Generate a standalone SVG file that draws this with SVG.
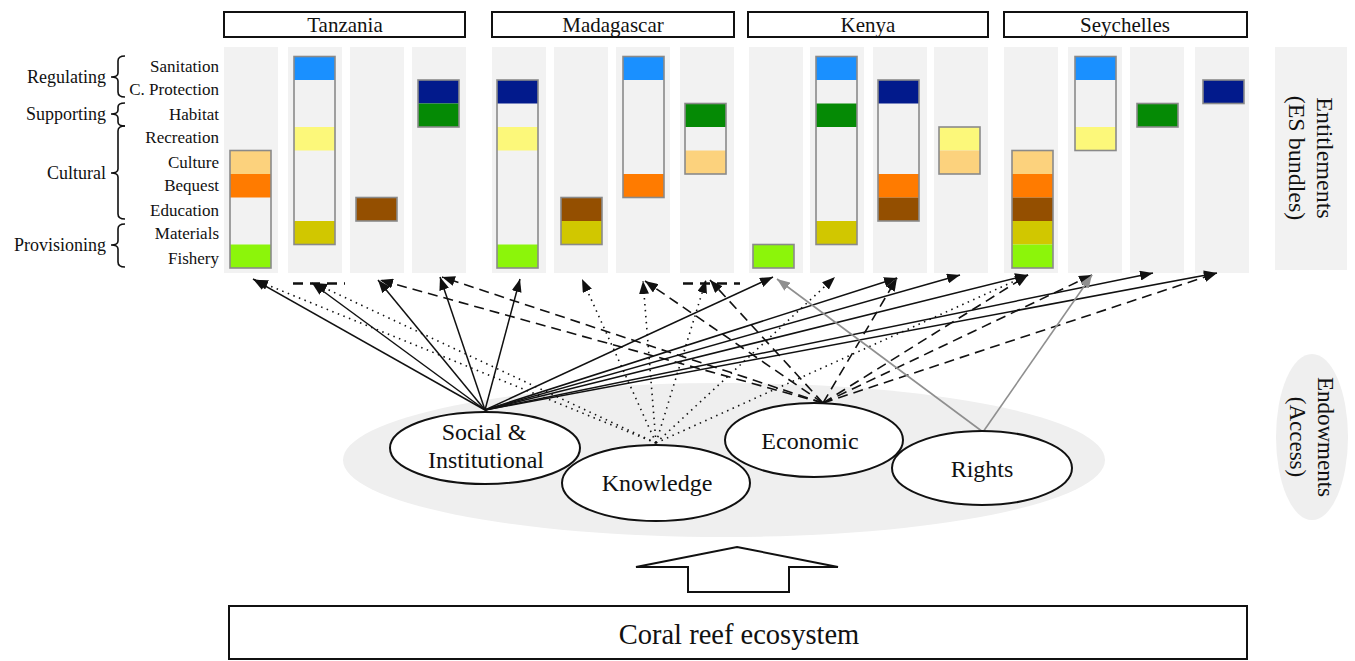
<svg xmlns="http://www.w3.org/2000/svg" width="1355" height="661" viewBox="0 0 1355 661" font-family="'Liberation Serif', 'DejaVu Serif', serif">
<style>
text{font-family:"Liberation Serif","DejaVu Serif",serif;fill:#111}
.svc{font-size:17px;text-anchor:end}
.cat{font-size:18px;text-anchor:end}
.hdr{font-size:21px;text-anchor:middle}
.nt{font-size:24px;text-anchor:middle}
.side{font-size:24px;text-anchor:middle}
.colbg{fill:#f2f2f2}
.box{fill:none;stroke:#8a8a8a;stroke-width:1.6}
.hbox{fill:#fff;stroke:#111;stroke-width:2}
.node{fill:#fff;stroke:#111;stroke-width:2}
.brace{fill:none;stroke:#111;stroke-width:1.6}
.san{fill:#1a90ff}.cp{fill:#021a8c}.hab{fill:#058a05}.rec{fill:#fcf87a}.cul{fill:#fcd27d}.beq{fill:#ff7b00}.edu{fill:#944f00}.mat{fill:#d1c700}.fis{fill:#8cf50a}.emp{fill:#f2f2f2}
.sol{fill:none;stroke:#111;stroke-width:1.5;marker-end:url(#ah)}
.dot{fill:none;stroke:#111;stroke-width:1.6;stroke-dasharray:1.5 4.5;marker-end:url(#ah)}
.dsh{fill:none;stroke:#111;stroke-width:1.6;stroke-dasharray:10 6;marker-end:url(#ah)}
.gry{fill:none;stroke:#8f8f8f;stroke-width:1.6;marker-end:url(#ahg)}
.hd{fill:none;stroke:#111;stroke-width:2.4;stroke-dasharray:10 7}
</style>
<defs>
<marker id="ah" markerUnits="userSpaceOnUse" markerWidth="13" markerHeight="10" refX="13" refY="5" orient="auto"><path d="M0,0 L13,5 L0,10 z" fill="#111"/></marker>
<marker id="ahg" markerUnits="userSpaceOnUse" markerWidth="13" markerHeight="10" refX="13" refY="5" orient="auto"><path d="M0,0 L13,5 L0,10 z" fill="#8f8f8f"/></marker>
</defs>
<rect width="1355" height="661" fill="#fff"/>

<!-- backgrounds -->
<g id="backgrounds">
<ellipse cx="724" cy="460" rx="381" ry="77" fill="#efefef"/>
<rect class="colbg" x="224" y="47" width="54" height="226"/>
<rect class="colbg" x="288" y="47" width="54" height="226"/>
<rect class="colbg" x="350" y="47" width="54" height="226"/>
<rect class="colbg" x="412" y="47" width="54" height="226"/>
<rect class="colbg" x="492" y="47" width="54" height="226"/>
<rect class="colbg" x="554" y="47" width="54" height="226"/>
<rect class="colbg" x="616" y="47" width="54" height="226"/>
<rect class="colbg" x="680" y="47" width="54" height="226"/>
<rect class="colbg" x="749" y="47" width="54" height="226"/>
<rect class="colbg" x="810" y="47" width="54" height="226"/>
<rect class="colbg" x="873" y="47" width="54" height="226"/>
<rect class="colbg" x="934" y="47" width="54" height="226"/>
<rect class="colbg" x="1004" y="47" width="54" height="226"/>
<rect class="colbg" x="1068" y="47" width="54" height="226"/>
<rect class="colbg" x="1130" y="47" width="54" height="226"/>
<rect class="colbg" x="1195" y="47" width="54" height="226"/>
</g>

<!-- headers -->
<g id="hdr-tanzania"><rect class="hbox" x="224" y="12" width="241" height="25"/><text class="hdr" x="345" y="32">Tanzania</text></g>
<g id="hdr-madagascar"><rect class="hbox" x="492" y="12" width="242" height="25"/><text class="hdr" x="613" y="32">Madagascar</text></g>
<g id="hdr-kenya"><rect class="hbox" x="748" y="12" width="240" height="25"/><text class="hdr" x="868" y="32">Kenya</text></g>
<g id="hdr-seychelles"><rect class="hbox" x="1004" y="12" width="243" height="25"/><text class="hdr" x="1125" y="32">Seychelles</text></g>

<!-- row labels -->
<g id="labels">
<text class="svc" x="219" y="72">Sanitation</text>
<text class="svc" x="219" y="95">C. Protection</text>
<text class="svc" x="219" y="120">Habitat</text>
<text class="svc" x="219" y="143">Recreation</text>
<text class="svc" x="219" y="168">Culture</text>
<text class="svc" x="219" y="191">Bequest</text>
<text class="svc" x="219" y="216">Education</text>
<text class="svc" x="219" y="239">Materials</text>
<text class="svc" x="219" y="264">Fishery</text>
<text class="cat" x="106" y="83">Regulating</text>
<text class="cat" x="106" y="120">Supporting</text>
<text class="cat" x="106" y="179">Cultural</text>
<text class="cat" x="106" y="251">Provisioning</text>
<path class="brace" d="M125,56 Q118,56 118,61 L118,73 Q118,77 111,77 Q118,77 118,81 L118,92 Q118,97 125,97"/>
<path class="brace" d="M125,103 Q118,103 118,107 L118,110 Q118,114 111,114 Q118,114 118,118 L118,122 Q118,126 125,126"/>
<path class="brace" d="M125,126 Q118,126 118,131 L118,169 Q118,173 111,173 Q118,173 118,177 L118,214 Q118,219 125,219"/>
<path class="brace" d="M125,224 Q118,224 118,229 L118,241 Q118,245 111,245 Q118,245 118,249 L118,262 Q118,267 125,267"/>
</g>

<!-- bundles -->
<g id="tz1"><rect class="emp" x="230" y="150.5" width="41" height="117.5"/><rect class="cul" x="230" y="150.5" width="41" height="23.5"/><rect class="beq" x="230" y="174" width="41" height="23.5"/><rect class="fis" x="230" y="244.5" width="41" height="23.5"/><rect class="box" x="230" y="150.5" width="41" height="117.5"/></g>
<g id="tz2"><rect class="emp" x="294" y="56.5" width="41" height="188"/><rect class="san" x="294" y="56.5" width="41" height="23.5"/><rect class="rec" x="294" y="127" width="41" height="23.5"/><rect class="mat" x="294" y="221" width="41" height="23.5"/><rect class="box" x="294" y="56.5" width="41" height="188"/></g>
<g id="tz3"><rect class="edu" x="356" y="197.5" width="41" height="23.5"/><rect class="box" x="356" y="197.5" width="41" height="23.5"/></g>
<g id="tz4"><rect class="cp" x="418" y="80" width="41" height="23.5"/><rect class="hab" x="418" y="103.5" width="41" height="23.5"/><rect class="box" x="418" y="80" width="41" height="47"/></g>

<g id="mg1"><rect class="emp" x="497" y="80" width="41" height="188"/><rect class="cp" x="497" y="80" width="41" height="23.5"/><rect class="rec" x="497" y="127" width="41" height="23.5"/><rect class="fis" x="497" y="244.5" width="41" height="23.5"/><rect class="box" x="497" y="80" width="41" height="188"/></g>
<g id="mg2"><rect class="edu" x="561" y="197.5" width="41" height="23.5"/><rect class="mat" x="561" y="221" width="41" height="23.5"/><rect class="box" x="561" y="197.5" width="41" height="47"/></g>
<g id="mg3"><rect class="emp" x="623" y="56.5" width="41" height="141"/><rect class="san" x="623" y="56.5" width="41" height="23.5"/><rect class="beq" x="623" y="174" width="41" height="23.5"/><rect class="box" x="623" y="56.5" width="41" height="141"/></g>
<g id="mg4"><rect class="emp" x="685" y="103.5" width="41" height="70.5"/><rect class="hab" x="685" y="103.5" width="41" height="23.5"/><rect class="cul" x="685" y="150.5" width="41" height="23.5"/><rect class="box" x="685" y="103.5" width="41" height="70.5"/></g>

<g id="ke1"><rect class="fis" x="753" y="244.5" width="41" height="23.5"/><rect class="box" x="753" y="244.5" width="41" height="23.5"/></g>
<g id="ke2"><rect class="emp" x="816" y="56.5" width="41" height="188"/><rect class="san" x="816" y="56.5" width="41" height="23.5"/><rect class="hab" x="816" y="103.5" width="41" height="23.5"/><rect class="mat" x="816" y="221" width="41" height="23.5"/><rect class="box" x="816" y="56.5" width="41" height="188"/></g>
<g id="ke3"><rect class="emp" x="878" y="80" width="41" height="141"/><rect class="cp" x="878" y="80" width="41" height="23.5"/><rect class="beq" x="878" y="174" width="41" height="23.5"/><rect class="edu" x="878" y="197.5" width="41" height="23.5"/><rect class="box" x="878" y="80" width="41" height="141"/></g>
<g id="ke4"><rect class="rec" x="939" y="127" width="41" height="23.5"/><rect class="cul" x="939" y="150.5" width="41" height="23.5"/><rect class="box" x="939" y="127" width="41" height="47"/></g>

<g id="sy1"><rect class="cul" x="1012" y="150.5" width="41" height="23.5"/><rect class="beq" x="1012" y="174" width="41" height="23.5"/><rect class="edu" x="1012" y="197.5" width="41" height="23.5"/><rect class="mat" x="1012" y="221" width="41" height="23.5"/><rect class="fis" x="1012" y="244.5" width="41" height="23.5"/><rect class="box" x="1012" y="150.5" width="41" height="117.5"/></g>
<g id="sy2"><rect class="emp" x="1075" y="56.5" width="41" height="94"/><rect class="san" x="1075" y="56.5" width="41" height="23.5"/><rect class="rec" x="1075" y="127" width="41" height="23.5"/><rect class="box" x="1075" y="56.5" width="41" height="94"/></g>
<g id="sy3"><rect class="hab" x="1137" y="103.5" width="41" height="23.5"/><rect class="box" x="1137" y="103.5" width="41" height="23.5"/></g>
<g id="sy4"><rect class="cp" x="1203" y="80" width="41" height="23.5"/><rect class="box" x="1203" y="80" width="41" height="23.5"/></g>

<!-- side labels -->
<g id="entitlements">
<rect class="colbg" x="1275" y="47" width="72" height="223"/>
<g transform="translate(1317,158) rotate(90)"><text class="side" x="0" y="0">Entitlements</text><text class="side" x="0" y="28">(ES bundles)</text></g>
</g>
<g id="endowments">
<ellipse cx="1312" cy="437" rx="36" ry="83" fill="#efefef"/>
<g transform="translate(1318,437) rotate(90)"><text class="side" style="font-size:23px" x="0" y="0">Endowments</text><text class="side" style="font-size:23px" x="0" y="28">(Access)</text></g>
</g>

<!-- connectors -->
<g id="connectors">
<line class="hd" x1="293" y1="283.5" x2="345" y2="283.5"/>
<line class="hd" x1="683" y1="283.5" x2="740" y2="283.5"/>
<!-- social & institutional -->
<line class="sol" x1="485" y1="410" x2="253" y2="279"/>
<line class="sol" x1="485" y1="410" x2="312" y2="283"/>
<line class="sol" x1="485" y1="410" x2="378" y2="280"/>
<line class="sol" x1="485" y1="410" x2="440" y2="277"/>
<line class="sol" x1="485" y1="410" x2="520" y2="279"/>
<line class="sol" x1="485" y1="410" x2="773" y2="277"/>
<line class="sol" x1="485" y1="410" x2="897" y2="278"/>
<line class="sol" x1="485" y1="410" x2="960" y2="275"/>
<line class="sol" x1="485" y1="410" x2="1028" y2="275"/>
<line class="sol" x1="485" y1="410" x2="1153" y2="273"/>
<line class="sol" x1="485" y1="410" x2="1217" y2="273"/>
<!-- knowledge -->
<line class="dot" x1="656" y1="443" x2="255" y2="280"/>
<line class="dot" x1="656" y1="443" x2="314" y2="283"/>
<line class="dot" x1="656" y1="443" x2="582" y2="279"/>
<line class="dot" x1="656" y1="443" x2="643" y2="281"/>
<line class="dot" x1="656" y1="443" x2="706" y2="280"/>
<line class="dot" x1="656" y1="443" x2="835" y2="277"/>
<line class="dot" x1="656" y1="443" x2="1028" y2="275"/>
<!-- economic -->
<line class="dsh" x1="823" y1="403" x2="380" y2="280"/>
<line class="dsh" x1="823" y1="403" x2="442" y2="277"/>
<line class="dsh" x1="823" y1="403" x2="645" y2="281"/>
<line class="dsh" x1="823" y1="403" x2="710" y2="280"/>
<line class="dsh" x1="823" y1="403" x2="897" y2="278"/>
<line class="dsh" x1="823" y1="403" x2="1028" y2="275"/>
<line class="dsh" x1="823" y1="403" x2="1092" y2="275"/>
<line class="dsh" x1="823" y1="403" x2="1217" y2="273"/>
<!-- rights -->
<line class="gry" x1="983" y1="432" x2="777" y2="279"/>
<line class="gry" x1="983" y1="432" x2="1092" y2="275"/>
</g>

<!-- endowment nodes -->
<g id="node-social"><ellipse class="node" cx="485" cy="448" rx="95" ry="36"/><text class="nt" x="484" y="440">Social &amp;</text><text class="nt" x="486" y="468">Institutional</text></g>
<g id="node-knowledge"><ellipse class="node" cx="656" cy="483" rx="94" ry="38"/><text class="nt" x="657" y="491">Knowledge</text></g>
<g id="node-economic"><ellipse class="node" cx="814" cy="440" rx="89" ry="37"/><text class="nt" x="810" y="449">Economic</text></g>
<g id="node-rights"><ellipse class="node" cx="982" cy="468" rx="90" ry="37"/><text class="nt" x="982" y="477">Rights</text></g>

<!-- ecosystem -->
<g id="up-arrow"><path d="M737,547 L838,567 L789,567 L789,592 L688,592 L688,567 L636,567 Z" fill="#fff" stroke="#111" stroke-width="2"/></g>
<g id="node-coral"><rect class="hbox" x="229" y="606" width="1018" height="53"/><text x="739" y="644" style="font-size:28.5px;text-anchor:middle">Coral reef ecosystem</text></g>
</svg>
